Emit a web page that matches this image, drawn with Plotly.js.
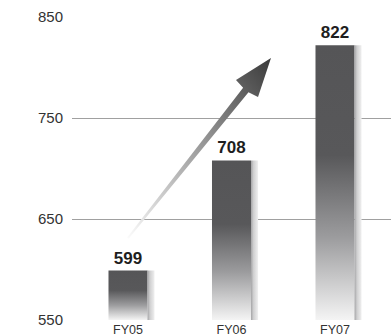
<!DOCTYPE html>
<html>
<head>
<meta charset="utf-8">
<script src="https://cdn.plot.ly/plotly-3.0.1.min.js"></script>
<style>
html,body{margin:0;padding:0;background:#fff;}
#chart{width:391px;height:336px;}
#chart .barlayer .trace:nth-child(1) .point path{fill:url(#gBar) !important;}
#chart .barlayer .trace:nth-child(2) .point path{fill:url(#gStripe) !important;}
#chart .shapelayer path{fill:url(#gArrow) !important; fill-opacity:1 !important;}
</style>
</head>
<body>
<svg width="0" height="0" style="position:absolute">
  <defs>
    <linearGradient id="gBar" x1="0" y1="0" x2="0" y2="1">
      <stop offset="0" stop-color="#555557"/>
      <stop offset="0.4" stop-color="#58585a"/>
      <stop offset="0.7" stop-color="#9c9c9e"/>
      <stop offset="1" stop-color="#f4f4f4"/>
    </linearGradient>
    <linearGradient id="gStripe" x1="0" y1="0" x2="1" y2="0">
      <stop offset="0" stop-color="#a4a4a6"/>
      <stop offset="0.35" stop-color="#cfcfd0"/>
      <stop offset="1" stop-color="#f0f0f0"/>
    </linearGradient>
    <linearGradient id="gArrow" x1="0" y1="1" x2="1" y2="0">
      <stop offset="0" stop-color="#f4f4f4" stop-opacity="0.4"/>
      <stop offset="0.1" stop-color="#e6e6e6"/>
      <stop offset="0.6" stop-color="#8a8a8a"/>
      <stop offset="1" stop-color="#3a3a3a"/>
    </linearGradient>
  </defs>
</svg>
<div id="chart"></div>
<script>
const categories = ["FY05", "FY06", "FY07"];
const values = [599, 708, 822];
const yTicks = [550, 650, 750, 850];

const W = 391, H = 336, ML = 72, MR = 0, MT = 17, MB = 16;
const pw = W - ML - MR, ph = H - MT - MB;
// arrow outline in pixel space -> converted to paper coords
const arrowPx = [[271,58],[258,97],[248.5,92.2],[128.8,238.6],[127.2,237.4],[243.1,87.8],[236,80]];
const toPaper = p => [(p[0]-ML)/pw, (H-MB-p[1])/ph];
const arrowPath = arrowPx.map((p,i)=>{const q=toPaper(p);return (i?'L':'M')+q[0].toFixed(4)+','+q[1].toFixed(4);}).join(' ')+' Z';

const baseVal = yTicks[0];
const mainW = 0.377, stripeW = 0.068;
const traces = [
  {type:'bar', x:categories, y:values.map(v=>v-baseVal), base:baseVal, width:mainW, offset:-mainW/2,
   marker:{color:'#58585a', line:{width:0}},
   text:values.map(String), textposition:'outside', cliponaxis:false,
   textfont:{family:'Liberation Sans, Arial, sans-serif', size:17, color:'#1e1e1e', weight:'bold'},
   hoverinfo:'none'},
  {type:'bar', x:categories, y:values.map(v=>v-baseVal), base:baseVal, width:stripeW, offset:mainW/2,
   marker:{color:'#d0d0d0', line:{width:0}}, hoverinfo:'none'}
];
const layout = {
  width:W, height:H, margin:{l:ML, r:MR, t:MT, b:MB, pad:0},
  paper_bgcolor:'#fff', plot_bgcolor:'#fff', showlegend:false, barmode:'overlay',
  font:{family:'Liberation Sans, Arial, sans-serif', color:'#333'},
  xaxis:{type:'category', range:[-0.541, 2.541], showgrid:false, zeroline:false, showline:false,
         ticks:'', tickfont:{size:12.5, color:'#333'}, fixedrange:true},
  yaxis:{range:[550, 850], tickvals:yTicks, showgrid:true, gridcolor:'#a0a0a0', gridwidth:1,
         zeroline:false, showline:false, ticks:'', ticklabelstandoff:8,
         tickfont:{size:15, color:'#333'}, fixedrange:true},
  shapes:[{type:'path', xref:'paper', yref:'paper', path:arrowPath, fillcolor:'#555', line:{width:0}, layer:'above'}]
};
Plotly.newPlot('chart', traces, layout, {staticPlot:true, displayModeBar:false});
</script>
</body>
</html>
